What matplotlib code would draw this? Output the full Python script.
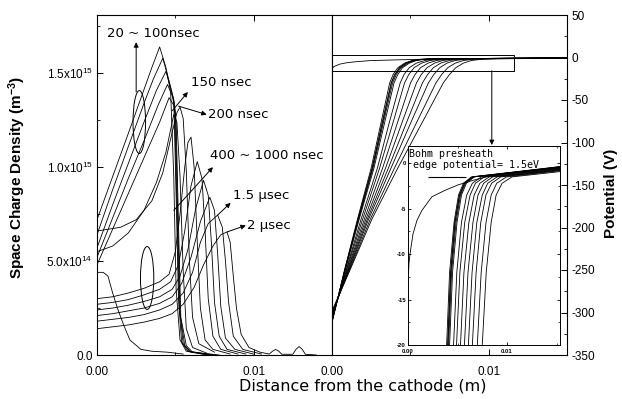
import matplotlib
matplotlib.use("Agg")
import matplotlib.pyplot as plt
from matplotlib.patches import Ellipse, Rectangle
from matplotlib.ticker import MultipleLocator, FixedLocator, FixedFormatter

plt.rcParams['font.family'] = ['Liberation Sans', 'DejaVu Sans']
plt.rcParams['mathtext.default'] = 'regular'
plt.rcParams['axes.unicode_minus'] = False

# ---------------- space charge density (x in m, density in 1e15 m^-3) ----------------
dens_t0_x = [0, 0.0004, 0.0007, 0.0010, 0.0013, 0.0017, 0.0021, 0.0028, 0.0035, 0.0045, 0.0055]
dens_t0_y = [0.44, 0.44, 0.42, 0.33, 0.25, 0.16, 0.08, 0.03, 0.02, 0.015, 0.005]

dens_20ns_x = [0, 0.0010, 0.0020, 0.0029, 0.0035, 0.0040, 0.0044, 0.0047, 0.0049, 0.00505, 0.0053, 0.0057, 0.0070]
dens_20ns_y = [0.72, 0.95, 1.18, 1.39, 1.53, 1.64, 1.53, 1.40, 0.95, 0.35, 0.08, 0.02, 0.0]
dens_40ns_x = [0, 0.0010, 0.0020, 0.0030, 0.0036, 0.0042, 0.0046, 0.0049, 0.00505, 0.0052, 0.0054, 0.0058, 0.0072]
dens_40ns_y = [0.64, 0.88, 1.11, 1.34, 1.47, 1.58, 1.46, 1.36, 0.85, 0.30, 0.07, 0.02, 0.0]
dens_60ns_x = [0, 0.0010, 0.0020, 0.0030, 0.0038, 0.0044, 0.0047, 0.00495, 0.0051, 0.00525, 0.0055, 0.0059, 0.0074]
dens_60ns_y = [0.57, 0.80, 1.02, 1.24, 1.41, 1.51, 1.42, 1.34, 0.80, 0.26, 0.06, 0.02, 0.0]
dens_80ns_x = [0, 0.0010, 0.0020, 0.0030, 0.0039, 0.0045, 0.0048, 0.0050, 0.00515, 0.0053, 0.0056, 0.0060, 0.0076]
dens_80ns_y = [0.52, 0.73, 0.94, 1.14, 1.33, 1.44, 1.38, 1.30, 0.75, 0.22, 0.05, 0.015, 0.0]
dens_100ns_x = [0, 0.0010, 0.0020, 0.0030, 0.0040, 0.0046, 0.0049, 0.00505, 0.0052, 0.00535, 0.0057, 0.0061, 0.0078]
dens_100ns_y = [0.48, 0.67, 0.86, 1.05, 1.24, 1.37, 1.33, 1.25, 0.70, 0.20, 0.05, 0.015, 0.0]

dens_150ns_x = [0, 0.0010, 0.0020, 0.0030, 0.0038, 0.0044, 0.0047, 0.0049, 0.0051, 0.0053, 0.0055, 0.0057, 0.0061, 0.0070]
dens_150ns_y = [0.55, 0.58, 0.65, 0.77, 0.92, 1.08, 1.20, 1.28, 1.24, 0.95, 0.45, 0.14, 0.04, 0.01]
dens_200ns_x = [0, 0.0015, 0.0025, 0.0035, 0.0042, 0.0047, 0.0051, 0.0053, 0.0055, 0.0057, 0.0059, 0.0061, 0.0065, 0.0075]
dens_200ns_y = [0.66, 0.68, 0.72, 0.82, 0.97, 1.15, 1.29, 1.32, 1.26, 0.98, 0.50, 0.20, 0.06, 0.015]
dens_400ns_x = [0, 0.0010, 0.0020, 0.0030, 0.0040, 0.0046, 0.0050, 0.0053, 0.0056, 0.0058, 0.0060, 0.0062, 0.0064, 0.0066, 0.0069, 0.0074, 0.0085]
dens_400ns_y = [0.30, 0.31, 0.33, 0.355, 0.39, 0.43, 0.55, 0.75, 1.00, 1.13, 1.16, 1.00, 0.60, 0.25, 0.08, 0.03, 0.005]
dens_600ns_x = [0, 0.0010, 0.0020, 0.0030, 0.0040, 0.0047, 0.0052, 0.0056, 0.0060, 0.0064, 0.0067, 0.0069, 0.0071, 0.0074, 0.0079, 0.0090]
dens_600ns_y = [0.27, 0.28, 0.295, 0.32, 0.35, 0.39, 0.48, 0.66, 0.90, 1.03, 0.94, 0.66, 0.30, 0.10, 0.03, 0.005]
dens_800ns_x = [0, 0.0010, 0.0020, 0.0030, 0.0040, 0.0048, 0.0053, 0.0058, 0.0063, 0.0068, 0.0071, 0.0073, 0.0075, 0.0078, 0.0083, 0.0095]
dens_800ns_y = [0.24, 0.25, 0.265, 0.285, 0.31, 0.35, 0.42, 0.56, 0.78, 0.93, 0.85, 0.60, 0.28, 0.10, 0.03, 0.005]
dens_1000ns_x = [0, 0.0010, 0.0020, 0.0030, 0.0040, 0.0048, 0.0054, 0.0060, 0.0066, 0.0072, 0.0075, 0.0077, 0.0079, 0.0082, 0.0088, 0.0100]
dens_1000ns_y = [0.21, 0.22, 0.235, 0.25, 0.275, 0.31, 0.38, 0.52, 0.71, 0.84, 0.77, 0.54, 0.26, 0.09, 0.03, 0.005]
dens_1500ns_x = [0, 0.0010, 0.0020, 0.0030, 0.0040, 0.0048, 0.0055, 0.0061, 0.0066, 0.0071, 0.0077, 0.0080, 0.0082, 0.0084, 0.0087, 0.0093, 0.0105]
dens_1500ns_y = [0.18, 0.19, 0.20, 0.215, 0.24, 0.27, 0.33, 0.44, 0.60, 0.70, 0.745, 0.68, 0.50, 0.28, 0.10, 0.03, 0.005]
dens_2000ns_x = [0, 0.0010, 0.0020, 0.0030, 0.0040, 0.0048, 0.0055, 0.0062, 0.0068, 0.0074, 0.0079, 0.0083, 0.0085,
                 0.0087, 0.0089, 0.0092, 0.0097, 0.0104, 0.0110, 0.0112, 0.0114, 0.0116, 0.0118, 0.0125, 0.0127,
                 0.0129, 0.0131, 0.0133, 0.0140]
dens_2000ns_y = [0.14, 0.15, 0.16, 0.175, 0.195, 0.22, 0.27, 0.36, 0.48, 0.58, 0.64, 0.655, 0.60,
                 0.42, 0.25, 0.11, 0.04, 0.015, 0.005, 0.02, 0.03, 0.02, 0.004, 0.004, 0.03,
                 0.045, 0.03, 0.004, 0.0]

density_curves = [
    (dens_t0_x, dens_t0_y),
    (dens_20ns_x, dens_20ns_y), (dens_40ns_x, dens_40ns_y), (dens_60ns_x, dens_60ns_y),
    (dens_80ns_x, dens_80ns_y), (dens_100ns_x, dens_100ns_y),
    (dens_150ns_x, dens_150ns_y), (dens_200ns_x, dens_200ns_y),
    (dens_400ns_x, dens_400ns_y), (dens_600ns_x, dens_600ns_y),
    (dens_800ns_x, dens_800ns_y), (dens_1000ns_x, dens_1000ns_y),
    (dens_1500ns_x, dens_1500ns_y), (dens_2000ns_x, dens_2000ns_y),
]

density_ticks = [0.0, 0.5, 1.0, 1.5]
density_ticklabels = ['0.0', '5.0x10$^{14}$', '1.0x10$^{15}$', '1.5x10$^{15}$']

# ---------------- potential (x in m where each curve crosses the listed levels, V) ----------------
pot_levels = [-250, -190, -130, -75, -30, -20, -12, -6.5, -3.5, -2.2, -1.5]
pot_20ns = [0.00080, 0.00163, 0.00250, 0.00315, 0.00368, 0.00390, 0.00420, 0.00465, 0.00510, 0.00560, 0.00640]
pot_40ns = [0.00081, 0.00166, 0.00256, 0.00322, 0.00377, 0.00400, 0.00430, 0.00472, 0.00518, 0.00568, 0.00650]
pot_60ns = [0.00082, 0.00168, 0.00258, 0.00325, 0.00380, 0.00403, 0.00433, 0.00476, 0.00522, 0.00573, 0.00655]
pot_80ns = [0.00083, 0.00170, 0.00262, 0.00330, 0.00387, 0.00410, 0.00440, 0.00485, 0.00530, 0.00580, 0.00660]
pot_100ns = [0.00085, 0.00174, 0.00268, 0.00338, 0.00396, 0.00420, 0.00450, 0.00495, 0.00540, 0.00590, 0.00670]
pot_150ns = [0.00090, 0.00186, 0.00290, 0.00368, 0.00435, 0.00460, 0.00493, 0.00540, 0.00593, 0.00650, 0.00740]
pot_200ns = [0.00093, 0.00196, 0.00304, 0.00392, 0.00463, 0.00490, 0.00524, 0.00573, 0.00627, 0.00681, 0.00770]
pot_400ns = [0.00098, 0.00207, 0.00323, 0.00421, 0.00501, 0.00530, 0.00565, 0.00615, 0.00668, 0.00726, 0.00820]
pot_600ns = [0.00101, 0.00217, 0.00342, 0.00450, 0.00539, 0.00570, 0.00606, 0.00656, 0.00707, 0.00764, 0.00855]
pot_800ns = [0.00105, 0.00226, 0.00360, 0.00479, 0.00577, 0.00610, 0.00647, 0.00695, 0.00750, 0.00805, 0.00900]
pot_1000ns = [0.00108, 0.00234, 0.00377, 0.00507, 0.00615, 0.00650, 0.00688, 0.00735, 0.00787, 0.00845, 0.00936]
pot_1500ns = [0.00112, 0.00245, 0.00399, 0.00544, 0.00663, 0.00700, 0.00739, 0.00788, 0.00840, 0.00896, 0.00994]
pot_2000ns = [0.00115, 0.00255, 0.00420, 0.00580, 0.00710, 0.00750, 0.00790, 0.00840, 0.00890, 0.00950, 0.01050]
cathode_v = [-312, -311, -311, -310, -309, -308, -306, -305, -304, -302, -301, -300, -298]
edge_v = [-0.35, -0.4, -0.4, -0.45, -0.45, -0.5, -0.55, -0.6, -0.65, -0.7, -0.75, -0.8, -0.9]
x_end = 0.0155

pot_t0_x = [0, 0.0001, 0.0002, 0.0005, 0.0009, 0.0014, 0.0024, 0.0037, 0.0050, 0.0065, 0.0090, 0.0155]
pot_t0_v = [-13.3, -11.0, -10.0, -7.8, -6.3, -5.2, -3.7, -3.0, -2.4, -1.9, -1.2, -0.35]

potential_curves = [pot_20ns, pot_40ns, pot_60ns, pot_80ns, pot_100ns, pot_150ns, pot_200ns,
                    pot_400ns, pot_600ns, pot_800ns, pot_1000ns, pot_1500ns, pot_2000ns]

bohm_edge_v = -1.5

# ---------------- figure ----------------
W, H = 622, 399
fig = plt.figure(figsize=(W / 100, H / 100), dpi=100)
axL = fig.add_axes([97 / W, 1 - 355 / H, 235 / W, 340 / H])
axR = fig.add_axes([332 / W, 1 - 355 / H, 235 / W, 340 / H])
axI = fig.add_axes([408 / W, 1 - 345 / H, 152 / W, 199 / H])

lw = 0.6
ann_font = dict(family='DejaVu Sans', fontsize=9.5)
arrow = dict(arrowstyle='-|>', lw=0.7, color='black', mutation_scale=7, shrinkA=0, shrinkB=0)

# left: space charge density
for xs, ys in density_curves:
    axL.plot(xs, ys, color='black', lw=lw)
axL.set_xlim(0, 0.015)
axL.set_ylim(0, 1.81)
axL.yaxis.set_major_locator(FixedLocator(density_ticks))
axL.yaxis.set_major_formatter(FixedFormatter(density_ticklabels))
axL.yaxis.set_minor_locator(MultipleLocator(0.25))
axL.xaxis.set_major_locator(FixedLocator([0.0, 0.01]))
axL.xaxis.set_major_formatter(FixedFormatter(['0.00', '0.01']))
axL.xaxis.set_minor_locator(MultipleLocator(0.005))
axL.tick_params(which='both', direction='in', top=True, right=False, labelsize=8.5)
axL.tick_params(which='major', length=4, width=0.7)
axL.tick_params(which='minor', length=2, width=0.6)
axL.tick_params(axis='x', pad=8)
axL.tick_params(axis='y', pad=3)

axL.add_patch(Ellipse((0.0027, 1.24), 0.0008, 0.335, fill=False, lw=0.7, color='black'))
axL.add_patch(Ellipse((0.0032, 0.41), 0.00085, 0.335, fill=False, lw=0.7, color='black'))

axL.annotate('', xy=(0.0025, 1.665), xytext=(0.0025, 1.40), arrowprops=arrow)
axL.text(0.00064, 1.713, '20 ~ 100nsec', va='center', ha='left', **ann_font)
axL.annotate('', xy=(0.0058, 1.40), xytext=(0.0048, 1.30), arrowprops=arrow)
axL.text(0.0060, 1.45, '150 nsec', va='center', ha='left', **ann_font)
axL.annotate('', xy=(0.0070, 1.28), xytext=(0.0052, 1.325), arrowprops=arrow)
axL.text(0.0071, 1.28, '200 nsec', va='center', ha='left', **ann_font)
axL.annotate('', xy=(0.0074, 1.00), xytext=(0.0049, 0.77), arrowprops=arrow)
axL.text(0.00724, 1.06, '400 ~ 1000 nsec', va='center', ha='left', **ann_font)
axL.annotate('', xy=(0.00853, 0.81), xytext=(0.0077, 0.745), arrowprops=arrow)
axL.text(0.00865, 0.85, '1.5 \u03bcsec', va='center', ha='left', **ann_font)
axL.annotate('', xy=(0.0095, 0.69), xytext=(0.0083, 0.655), arrowprops=arrow)
axL.text(0.0096, 0.69, '2 \u03bcsec', va='center', ha='left', **ann_font)


def draw_potential(ax):
    for xs, v0, v1 in zip(potential_curves, cathode_v, edge_v):
        ax.plot([0] + xs + [x_end], [v0] + pot_levels + [v1], color='black', lw=lw)
    ax.plot(pot_t0_x, pot_t0_v, color='black', lw=lw)


# right: potential
draw_potential(axR)
axR.set_xlim(0, 0.015)
axR.set_ylim(-350, 50)
axR.yaxis.tick_right()
axR.yaxis.set_major_locator(MultipleLocator(50))
axR.yaxis.set_minor_locator(MultipleLocator(25))
axR.xaxis.set_major_locator(FixedLocator([0.0, 0.01]))
axR.xaxis.set_major_formatter(FixedFormatter(['0.00', '0.01']))
axR.xaxis.set_minor_locator(MultipleLocator(0.005))
axR.tick_params(which='both', direction='in', top=True, left=False, right=True, labelsize=8.5)
axR.tick_params(which='major', length=4, width=0.7)
axR.tick_params(which='minor', length=2, width=0.6)
axR.tick_params(axis='x', pad=8)
axR.tick_params(axis='y', pad=3.5)
axR.add_patch(Rectangle((0, -15.5), 0.0116, 18, fill=False, lw=0.7, color='black'))
axR.annotate('', xy=(0.0102, -103), xytext=(0.0102, -15.5), arrowprops=arrow)

# inset: zoom near the sheath edge
draw_potential(axI)
axI.set_xlim(0, 0.01535)
axI.set_ylim(-20, 1.9)
axI.hlines(bohm_edge_v, 0.002, 0.0059, color='black', lw=0.8)
axI.xaxis.set_major_locator(FixedLocator([0.0, 0.01]))
axI.xaxis.set_major_formatter(FixedFormatter(['0.00', '0.01']))
axI.xaxis.set_minor_locator(MultipleLocator(0.005))
axI.yaxis.set_major_locator(MultipleLocator(5))
axI.yaxis.set_minor_locator(MultipleLocator(2.5))
axI.tick_params(which='both', direction='in', top=True, right=True, labelsize=4.3)
axI.tick_params(axis='x', pad=3.2)
axI.tick_params(axis='y', pad=1.5)
axI.tick_params(which='major', length=2.5, width=0.6)
axI.tick_params(which='minor', length=1.5, width=0.5)
for lab in axI.get_xticklabels() + axI.get_yticklabels():
    lab.set_fontweight('bold')
for s in axI.spines.values():
    s.set_linewidth(0.7)
axI.text(0.008, 0.96, 'Bohm presheath', transform=axI.transAxes, va='center', ha='left',
         family='DejaVu Sans Mono', fontsize=7.2)
axI.text(0.033, 0.905, 'edge potential= 1.5eV', transform=axI.transAxes, va='center', ha='left',
         family='DejaVu Sans Mono', fontsize=7.2)

for ax in (axL, axR):
    for s in ax.spines.values():
        s.set_linewidth(0.8)

fig.text(0.027, 0.555, 'Space Charge Density (m$^{-3}$)', rotation=90, va='center', ha='center',
         fontsize=11, fontweight='bold')
fig.text(0.982, 0.516, 'Potential (V)', rotation=90, va='center', ha='center',
         fontsize=11, fontweight='bold')
fig.text(363 / W, 1 - 386 / H, 'Distance from the cathode (m)', va='center', ha='center',
         family='DejaVu Sans', fontsize=11.5)

fig.savefig('out.png', dpi=100)
